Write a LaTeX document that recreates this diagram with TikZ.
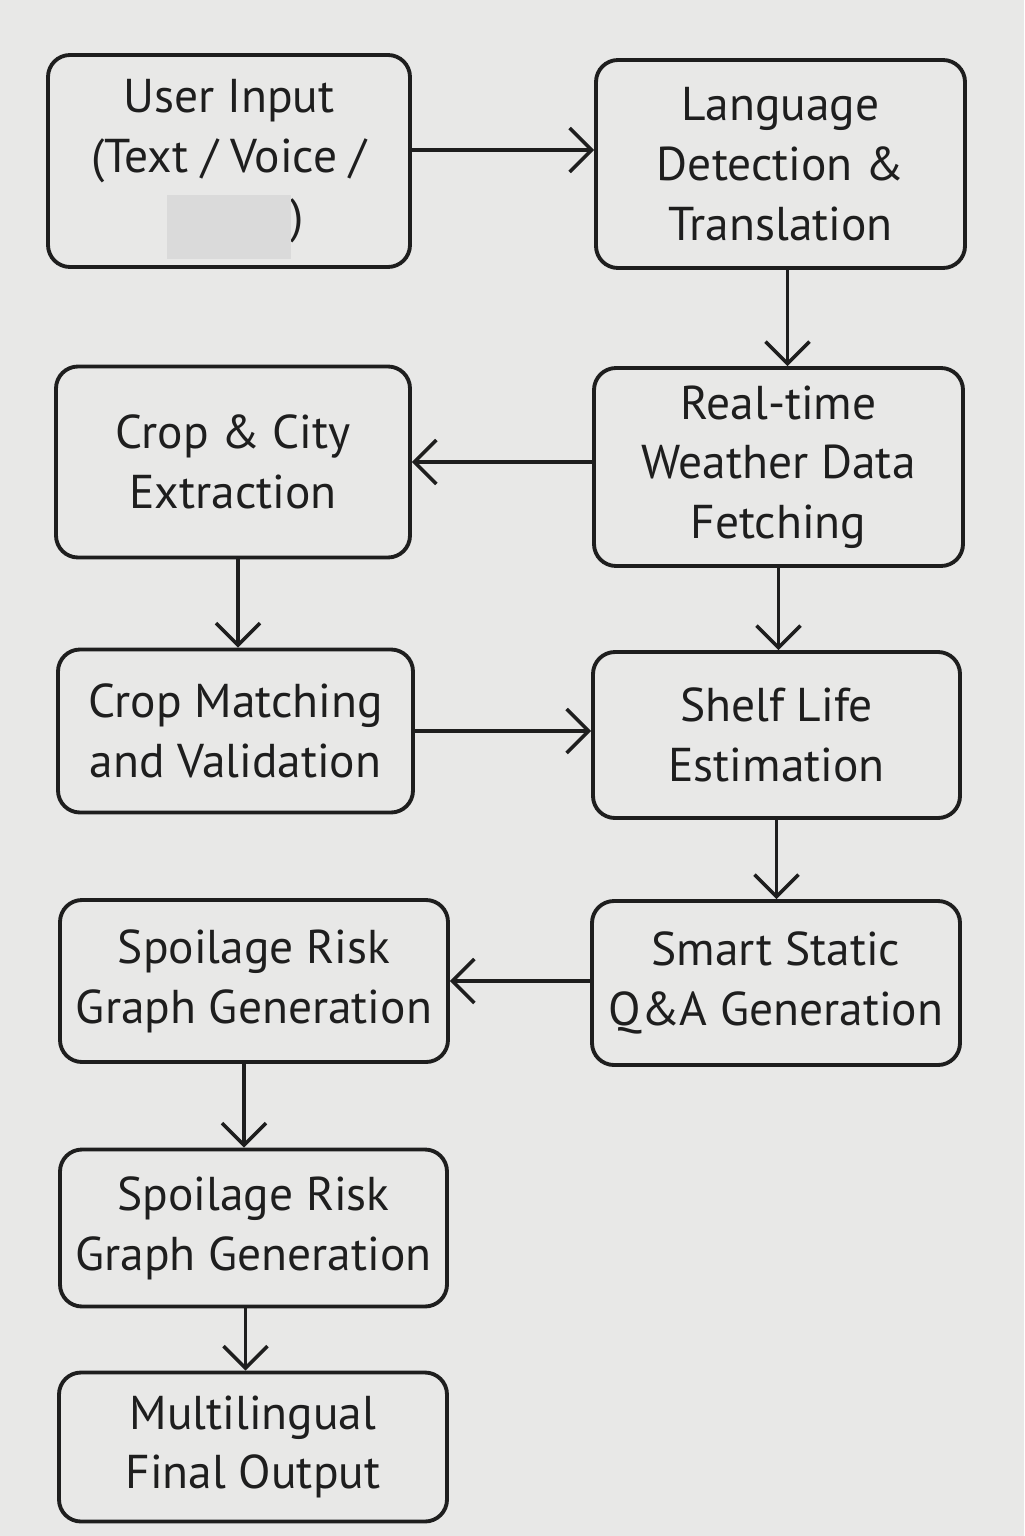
\documentclass[tikz,border=0pt]{standalone}
\usepackage{fontspec}
\setmainfont{PT Sans}
\usetikzlibrary{arrows.meta}

\definecolor{paper}{HTML}{E8E8E7}
\definecolor{ink}{HTML}{1E1E1E}
\definecolor{smudge}{HTML}{DADADA}

\begin{document}
\begin{tikzpicture}[>={Straight Barb[length=2.2mm,width=4.4mm]},x=1cm,y=-1cm,
    box/.style={draw=ink,line width=1.1pt,rounded corners=0.22cm,fill=paper,
      align=center,text=ink,inner sep=0pt,font=\fontsize{13.5}{17}\selectfont},
    link/.style={->,draw=ink,line width=1pt}]
  \fill[paper] (0,0) rectangle (10.24,15.36);
  \useasboundingbox (0,0) rectangle (10.24,15.36);

  % left column
  \node[box,minimum width=3.62cm,minimum height=2.12cm] (input) at (2.29,1.61)
    {User Input\\(Text / Voice /\\\hspace{1.36cm})};
  \node[box,minimum width=3.54cm,minimum height=1.91cm] (extract) at (2.33,4.62)
    {Crop \& City\\Extraction};
  \node[box,minimum width=3.55cm,minimum height=1.63cm] (match) at (2.355,7.31)
    {Crop Matching\\and Validation};
  \node[box,minimum width=3.88cm,minimum height=1.62cm] (graphA) at (2.54,9.81)
    {Spoilage Risk\\Graph Generation};
  \node[box,minimum width=3.87cm,minimum height=1.57cm] (graphB) at (2.535,12.28)
    {Spoilage Risk\\Graph Generation};
  \node[box,minimum width=3.88cm,minimum height=1.49cm] (output) at (2.53,14.47)
    {Multilingual\\Final Output};

  % right column
  \node[box,minimum width=3.69cm,minimum height=2.08cm] (lang) at (7.805,1.64)
    {Language\\Detection \&\\Translation};
  \node[box,minimum width=3.69cm,minimum height=1.98cm] (weather) at (7.785,4.67)
    {Real-time\\Weather Data\\Fetching};
  \node[box,minimum width=3.67cm,minimum height=1.66cm] (shelf) at (7.765,7.35)
    {Shelf Life\\Estimation};
  \node[box,minimum width=3.68cm,minimum height=1.64cm] (qa) at (7.76,9.83)
    {Smart Static\\Q\&A Generation};

  % hidden part of the first box
  \fill[smudge] (1.67,1.95) rectangle (2.91,2.59);

  % connectors
  \draw[link] ([yshift=0.11cm]input.east) -- ([yshift=0.11cm]input.east -| lang.west);
  \draw[link] ([xshift=0.07cm]lang.south) -- ([xshift=0.07cm]lang.south |- weather.north);
  \draw[link] (weather.west |- extract.east) -- (extract.east);
  \draw[link] ([xshift=0.05cm]extract.south) -- ([xshift=0.05cm]extract.south |- match.north);
  \draw[link] (weather.south) -- (weather.south |- shelf.north);
  \draw[link] (match.east) -- (match.east -| shelf.west);
  \draw[link] (shelf.south) -- (shelf.south |- qa.north);
  \draw[link] (qa.west |- graphA.east) -- (graphA.east);
  \draw[link] ([xshift=-0.1cm]graphA.south) -- ([xshift=-0.1cm]graphA.south |- graphB.north);
  \draw[link] ([xshift=-0.08cm]graphB.south) -- ([xshift=-0.08cm]graphB.south |- output.north);
\end{tikzpicture}
\end{document}
